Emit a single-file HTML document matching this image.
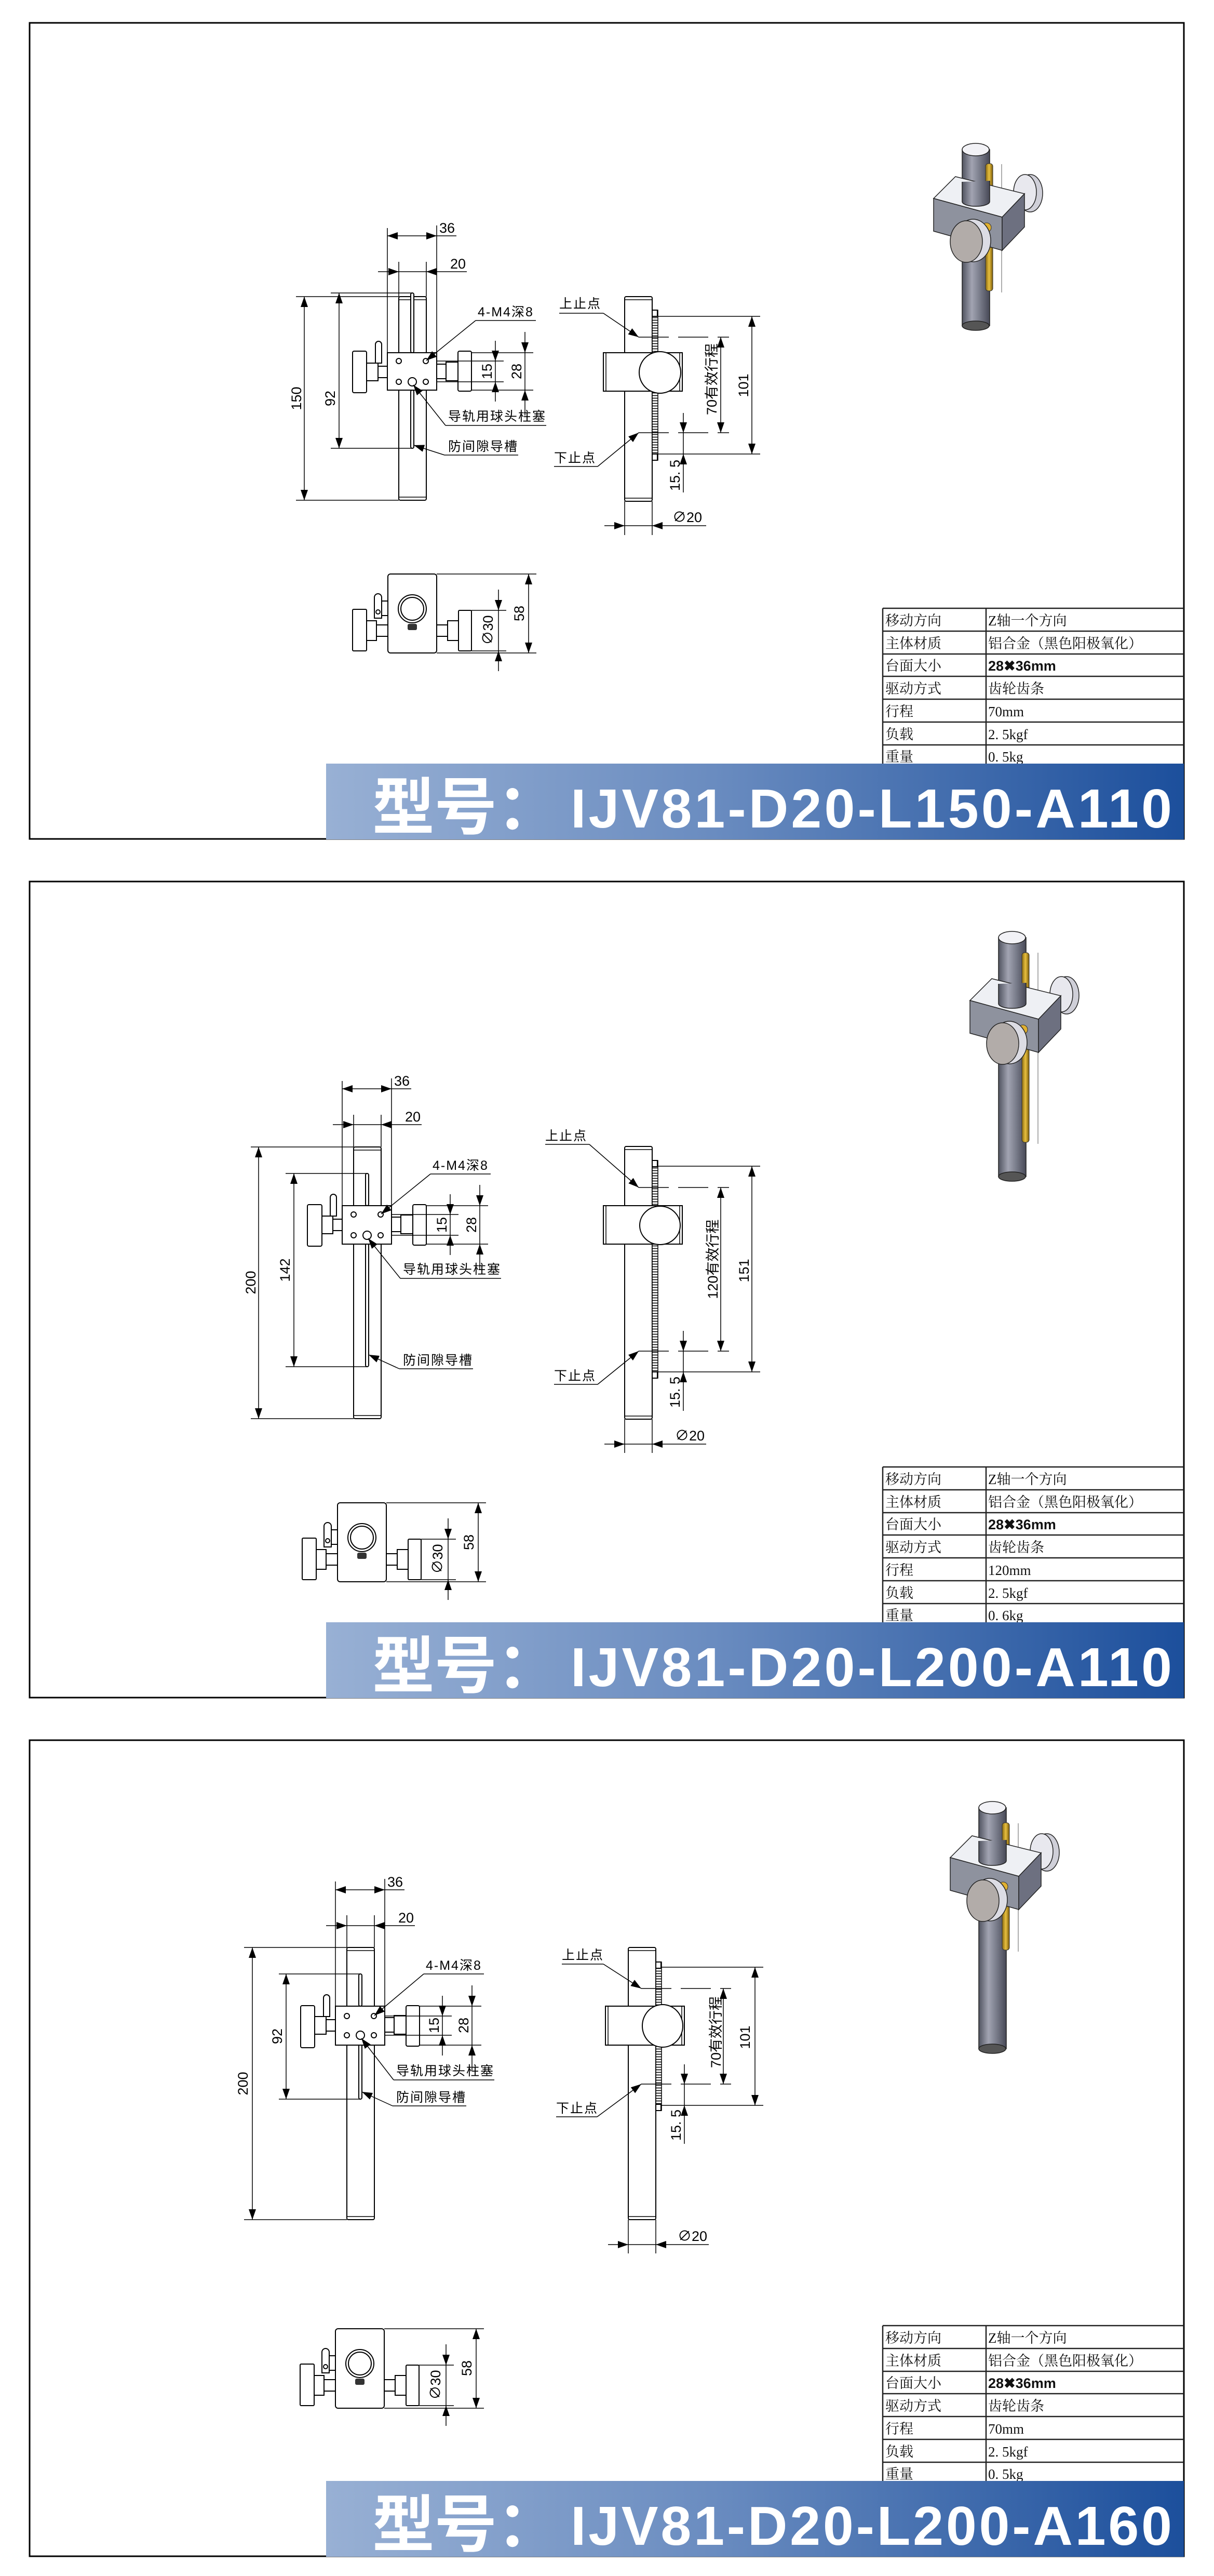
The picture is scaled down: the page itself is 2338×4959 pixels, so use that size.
<!DOCTYPE html>
<html><head><meta charset="utf-8"><style>
html,body{margin:0;padding:0;background:#fff}
svg{display:block}
.l{stroke:#000;stroke-width:2;fill:#fff}
.n{stroke:#000;stroke-width:2;fill:none}
.d{stroke:#000;stroke-width:1.5;fill:none}
.t{font-family:"Liberation Sans","Noto Sans CJK SC",sans-serif;font-size:27px;fill:#000}
.c{font-family:"Liberation Sans","Noto Sans CJK SC",sans-serif;font-size:25px;letter-spacing:2px;fill:#000}
.tb{font-family:"Liberation Serif","Noto Serif CJK SC",serif;font-size:27px;fill:#111}
.tbs{font-family:"Liberation Sans","Noto Sans CJK SC",sans-serif;font-size:27px;fill:#111;font-weight:bold}
.ba{font-family:"Liberation Sans","Noto Sans CJK SC",sans-serif;font-weight:bold;fill:#fff}
</style></head><body>
<svg width="2338" height="4959" viewBox="0 0 2338 4959" xmlns="http://www.w3.org/2000/svg">
<defs>
<marker id="ar" viewBox="0 0 20 14" refX="20" refY="7" markerWidth="20" markerHeight="14" markerUnits="userSpaceOnUse" orient="auto-start-reverse"><path d="M0,0L20,7L0,14z" fill="#000"/></marker>
<pattern id="rk" width="11" height="5" patternUnits="userSpaceOnUse"><rect width="11" height="5" fill="#fff"/><path d="M0,2.5H11" stroke="#000" stroke-width="1.6"/></pattern>
<linearGradient id="bn" x1="0" x2="1" y1="0" y2="0"><stop offset="0" stop-color="#98b0d4"/><stop offset="0.45" stop-color="#6a8cc0"/><stop offset="1" stop-color="#1c4f9c"/></linearGradient>
<linearGradient id="rg" x1="0" x2="1" y1="0" y2="0"><stop offset="0" stop-color="#50535f"/><stop offset="0.35" stop-color="#a2a4b2"/><stop offset="0.6" stop-color="#7f8290"/><stop offset="1" stop-color="#474957"/></linearGradient>
<linearGradient id="yg" x1="0" x2="1" y1="0" y2="0"><stop offset="0" stop-color="#8a6a10"/><stop offset="0.5" stop-color="#e8c040"/><stop offset="1" stop-color="#7a5a08"/></linearGradient>
</defs>

<!-- panel borders -->
<rect x="57" y="44" width="2223" height="1571" fill="none" stroke="#000" stroke-width="3"/>
<rect x="57" y="1697" width="2223" height="1571" fill="none" stroke="#000" stroke-width="3"/>
<rect x="57" y="3350" width="2223" height="1571" fill="none" stroke="#000" stroke-width="3"/>

<!-- ===== FRONT VIEW PANEL 1 ===== -->
<g transform="translate(746,679)">
<rect class="l" x="22" y="-108" width="53" height="392" rx="3"/>
<path class="d" d="M22,-102H75M22,278H75"/>
<rect class="l" x="45" y="-115" width="6" height="115" rx="3"/><rect class="l" x="45" y="72" width="6" height="112" rx="3"/>
<rect class="l" x="0" y="0" width="95" height="72"/>
<circle class="n" cx="22" cy="16" r="5"/><circle class="n" cx="74" cy="16" r="5"/><circle class="n" cx="22" cy="56" r="5"/><circle class="n" cx="74" cy="56" r="5"/><circle class="n" cx="48" cy="56" r="8"/>
<rect class="l" x="-67" y="-3" width="27" height="80" rx="3"/><rect class="l" x="-40" y="20" width="22" height="34"/><rect class="l" x="-18" y="26" width="18" height="22"/>
<path class="l" d="M-23,20V-16A6,6 0 0 1 -11,-16V20Z"/>
<rect class="l" x="95" y="22" width="18" height="28"/><rect class="l" x="113" y="18" width="23" height="36"/><rect class="l" x="136" y="-3" width="26" height="77" rx="3"/>
<path class="d" d="M0,-240V0M95,-245V0M95,-225H133M22,-175V-108M75,-175V-108M22,-156H75M-176,-108H22M-176,284H22M-109,-115H48M-109,184H48M95,16H224M95,56H224M162,0H281M162,72H281M208,16V56M265,0V72"/>
<line class="d" x1="0" y1="-225" x2="95" y2="-225" marker-start="url(#ar)" marker-end="url(#ar)"/>
<line class="d" x1="-18" y1="-156" x2="22" y2="-156" marker-end="url(#ar)"/><line class="d" x1="153" y1="-156" x2="75" y2="-156" marker-end="url(#ar)"/>
<line class="d" x1="-160" y1="-108" x2="-160" y2="284" marker-start="url(#ar)" marker-end="url(#ar)"/>
<line class="d" x1="-93" y1="-115" x2="-93" y2="184" marker-start="url(#ar)" marker-end="url(#ar)"/>
<line class="d" x1="208" y1="-23" x2="208" y2="16" marker-end="url(#ar)"/><line class="d" x1="208" y1="94" x2="208" y2="56" marker-end="url(#ar)"/>
<line class="d" x1="265" y1="-40" x2="265" y2="0" marker-end="url(#ar)"/><line class="d" x1="265" y1="121" x2="265" y2="72" marker-end="url(#ar)"/>
<text class="t" x="100" y="-231" font-size="30">36</text><text class="t" x="121" y="-162" font-size="30">20</text>
<text class="t" text-anchor="middle" transform="translate(-166,88) rotate(-90)">150</text>
<text class="t" text-anchor="middle" transform="translate(-101,88) rotate(-90)">92</text>
<text class="t" text-anchor="middle" transform="translate(201,36) rotate(-90)">15</text>
<text class="t" text-anchor="middle" transform="translate(258,36) rotate(-90)">28</text>
<path class="d" d="M170,-62H286M112,140H306M110,197H252"/>
<line class="d" x1="170" y1="-62" x2="75" y2="15" marker-end="url(#ar)"/>
<line class="d" x1="112" y1="140" x2="50" y2="62" marker-end="url(#ar)"/>
<line class="d" x1="110" y1="197" x2="51" y2="178" marker-end="url(#ar)"/>
<text class="c" x="174" y="-70" letter-spacing="0">4-M4深8</text>
<text class="c" x="117" y="131">导轨用球头柱塞</text>
<text class="c" x="117" y="189">防间隙导槽</text>
</g>

<!-- ===== FRONT VIEW PANEL 2 ===== -->
<g transform="translate(659,2321)">
<rect class="l" x="22" y="-113" width="53" height="523" rx="3"/>
<path class="d" d="M22,-107H75M22,404H75"/>
<rect class="l" x="45" y="-62" width="6" height="62" rx="3"/><rect class="l" x="45" y="72" width="6" height="238" rx="3"/>
<rect class="l" x="0" y="0" width="95" height="74"/>
<circle class="n" cx="22" cy="17" r="5"/><circle class="n" cx="74" cy="17" r="5"/><circle class="n" cx="22" cy="57" r="5"/><circle class="n" cx="74" cy="57" r="5"/><circle class="n" cx="48" cy="57" r="8"/>
<rect class="l" x="-67" y="-2" width="28" height="80" rx="3"/><rect class="l" x="-39" y="20" width="21" height="34"/><rect class="l" x="-18" y="26" width="18" height="22"/>
<path class="l" d="M-23,20V-16A6,6 0 0 1 -11,-16V20Z"/>
<rect class="l" x="95" y="22" width="18" height="28"/><rect class="l" x="113" y="18" width="23" height="36"/><rect class="l" x="136" y="-2" width="26" height="78" rx="3"/>
<path class="d" d="M0,-240V0M95,-245V0M95,-225H133M22,-175V-113M75,-175V-113M22,-156H75M-176,-113H22M-176,410H22M-109,-62H48M-109,310H48M95,17H224M95,57H224M162,0H281M162,74H281M208,17V57M265,0V74"/>
<line class="d" x1="0" y1="-225" x2="95" y2="-225" marker-start="url(#ar)" marker-end="url(#ar)"/>
<line class="d" x1="-18" y1="-156" x2="22" y2="-156" marker-end="url(#ar)"/><line class="d" x1="153" y1="-156" x2="75" y2="-156" marker-end="url(#ar)"/>
<line class="d" x1="-161" y1="-113" x2="-161" y2="410" marker-start="url(#ar)" marker-end="url(#ar)"/>
<line class="d" x1="-93" y1="-62" x2="-93" y2="310" marker-start="url(#ar)" marker-end="url(#ar)"/>
<line class="d" x1="208" y1="-22" x2="208" y2="17" marker-end="url(#ar)"/><line class="d" x1="208" y1="95" x2="208" y2="57" marker-end="url(#ar)"/>
<line class="d" x1="265" y1="-40" x2="265" y2="0" marker-end="url(#ar)"/><line class="d" x1="265" y1="123" x2="265" y2="74" marker-end="url(#ar)"/>
<text class="t" x="100" y="-231" font-size="30">36</text><text class="t" x="121" y="-162" font-size="30">20</text>
<text class="t" text-anchor="middle" transform="translate(-167,148) rotate(-90)">200</text>
<text class="t" text-anchor="middle" transform="translate(-101,124) rotate(-90)">142</text>
<text class="t" text-anchor="middle" transform="translate(201,37) rotate(-90)">15</text>
<text class="t" text-anchor="middle" transform="translate(258,37) rotate(-90)">28</text>
<path class="d" d="M170,-61H286M112,140H306M110,314H252"/>
<line class="d" x1="170" y1="-61" x2="75" y2="16" marker-end="url(#ar)"/>
<line class="d" x1="112" y1="140" x2="50" y2="63" marker-end="url(#ar)"/>
<line class="d" x1="110" y1="314" x2="51" y2="287" marker-end="url(#ar)"/>
<text class="c" x="174" y="-69" letter-spacing="0">4-M4深8</text>
<text class="c" x="117" y="131">导轨用球头柱塞</text>
<text class="c" x="117" y="306">防间隙导槽</text>
</g>

<!-- ===== FRONT VIEW PANEL 3 ===== -->
<g transform="translate(646,3862)">
<rect class="l" x="22" y="-113" width="53" height="524" rx="3"/>
<path class="d" d="M22,-107H75M22,405H75"/>
<rect class="l" x="45" y="-62" width="6" height="62" rx="3"/><rect class="l" x="45" y="74" width="6" height="105" rx="3"/>
<rect class="l" x="0" y="0" width="95" height="75"/>
<circle class="n" cx="22" cy="19" r="5"/><circle class="n" cx="74" cy="19" r="5"/><circle class="n" cx="22" cy="56" r="5"/><circle class="n" cx="74" cy="56" r="5"/><circle class="n" cx="48" cy="56" r="8"/>
<rect class="l" x="-67" y="-1" width="27" height="81" rx="3"/><rect class="l" x="-40" y="20" width="22" height="34"/><rect class="l" x="-18" y="26" width="18" height="22"/>
<path class="l" d="M-23,20V-16A6,6 0 0 1 -11,-16V20Z"/>
<rect class="l" x="95" y="22" width="18" height="28"/><rect class="l" x="113" y="18" width="23" height="36"/><rect class="l" x="136" y="-1" width="26" height="78" rx="3"/>
<path class="d" d="M0,-240V0M95,-245V0M95,-224H133M22,-175V-113M75,-175V-113M22,-155H75M-176,-113H22M-176,411H22M-109,-62H48M-109,179H48M95,19H224M95,56H224M162,0H281M162,75H281M206,19V56M263,0V75"/>
<line class="d" x1="0" y1="-224" x2="95" y2="-224" marker-start="url(#ar)" marker-end="url(#ar)"/>
<line class="d" x1="-18" y1="-155" x2="22" y2="-155" marker-end="url(#ar)"/><line class="d" x1="153" y1="-155" x2="75" y2="-155" marker-end="url(#ar)"/>
<line class="d" x1="-160" y1="-113" x2="-160" y2="411" marker-start="url(#ar)" marker-end="url(#ar)"/>
<line class="d" x1="-95" y1="-62" x2="-95" y2="179" marker-start="url(#ar)" marker-end="url(#ar)"/>
<line class="d" x1="206" y1="-20" x2="206" y2="19" marker-end="url(#ar)"/><line class="d" x1="206" y1="95" x2="206" y2="56" marker-end="url(#ar)"/>
<line class="d" x1="263" y1="-40" x2="263" y2="0" marker-end="url(#ar)"/><line class="d" x1="263" y1="124" x2="263" y2="75" marker-end="url(#ar)"/>
<text class="t" x="100" y="-230" font-size="30">36</text><text class="t" x="121" y="-161" font-size="30">20</text>
<text class="t" text-anchor="middle" transform="translate(-169,149) rotate(-90)">200</text>
<text class="t" text-anchor="middle" transform="translate(-103,58) rotate(-90)">92</text>
<text class="t" text-anchor="middle" transform="translate(199,37) rotate(-90)">15</text>
<text class="t" text-anchor="middle" transform="translate(256,37) rotate(-90)">28</text>
<path class="d" d="M170,-62H286M112,142H306M110,192H252"/>
<line class="d" x1="170" y1="-62" x2="75" y2="18" marker-end="url(#ar)"/>
<line class="d" x1="112" y1="142" x2="50" y2="62" marker-end="url(#ar)"/>
<line class="d" x1="110" y1="192" x2="51" y2="165" marker-end="url(#ar)"/>
<text class="c" x="174" y="-70" letter-spacing="0">4-M4深8</text>
<text class="c" x="117" y="133">导轨用球头柱塞</text>
<text class="c" x="117" y="184">防间隙导槽</text>
</g>

<!-- ===== SIDE VIEW PANEL 1 ===== -->
<g transform="translate(1162,679)">
<rect class="l" x="41" y="-108" width="53" height="394" rx="3"/>
<path class="d" d="M41,-102H94M41,280H94"/>
<rect x="94" y="-82" width="11" height="289" fill="url(#rk)" stroke="#000" stroke-width="1.5"/>
<rect class="l" x="94" y="-82" width="10" height="12"/><rect class="l" x="94" y="195" width="10" height="12"/>
<rect class="l" x="0" y="0" width="152" height="74"/><path class="d" d="M5,0V74M147,0V74"/>
<circle class="l" cx="109" cy="38" r="40"/>
<path class="d" d="M68,-30H242M68,154H242" stroke-dasharray="58,18"/>
<path class="d" d="M105,-70H302M105,195H302M154,154V195"/>
<line class="d" x1="286" y1="-70" x2="286" y2="195" marker-start="url(#ar)" marker-end="url(#ar)"/>
<line class="d" x1="226" y1="-30" x2="226" y2="154" marker-start="url(#ar)" marker-end="url(#ar)"/>
<line class="d" x1="154" y1="116" x2="154" y2="154" marker-end="url(#ar)"/>
<line class="d" x1="154" y1="269" x2="154" y2="195" marker-end="url(#ar)"/>
<text class="t" text-anchor="middle" font-size="30" transform="translate(218,51) rotate(-90)">70有效行程</text>
<text class="t" text-anchor="middle" transform="translate(279,63) rotate(-90)">101</text>
<text class="t" text-anchor="middle" transform="translate(147,236) rotate(-90)">15. 5</text>
<path class="d" d="M41,286V351M94,286V351M41,333H94"/>
<line class="d" x1="2" y1="333" x2="41" y2="333" marker-end="url(#ar)"/><line class="d" x1="198" y1="333" x2="94" y2="333" marker-end="url(#ar)"/>
<text class="t" x="133" y="326">∅20</text>
<path class="d" d="M-85,-76H0M-95,219H-11"/>
<line class="d" x1="0" y1="-76" x2="68" y2="-30" marker-end="url(#ar)"/>
<line class="d" x1="-11" y1="219" x2="68" y2="154" marker-end="url(#ar)"/>
<text class="c" x="-85" y="-86">上止点</text><text class="c" x="-95" y="211">下止点</text>
</g>

<!-- ===== SIDE VIEW PANEL 2 ===== -->
<g transform="translate(1162,2321)">
<rect class="l" x="41" y="-114" width="53" height="525" rx="3"/>
<path class="d" d="M41,-108H94M41,405H94"/>
<rect x="94" y="-87" width="11" height="419" fill="url(#rk)" stroke="#000" stroke-width="1.5"/>
<rect class="l" x="94" y="-87" width="10" height="12"/><rect class="l" x="94" y="320" width="10" height="12"/>
<rect class="l" x="0" y="0" width="152" height="74"/><path class="d" d="M5,0V74M147,0V74"/>
<ellipse class="l" cx="109" cy="38" rx="39" ry="37"/>
<path class="d" d="M68,-35H242M68,280H242" stroke-dasharray="58,18"/>
<path class="d" d="M105,-76H302M105,320H302M154,280V320"/>
<line class="d" x1="286" y1="-76" x2="286" y2="320" marker-start="url(#ar)" marker-end="url(#ar)"/>
<line class="d" x1="226" y1="-35" x2="226" y2="280" marker-start="url(#ar)" marker-end="url(#ar)"/>
<line class="d" x1="154" y1="241" x2="154" y2="280" marker-end="url(#ar)"/>
<line class="d" x1="154" y1="395" x2="154" y2="320" marker-end="url(#ar)"/>
<text class="t" text-anchor="middle" font-size="30" transform="translate(220,103) rotate(-90)">120有效行程</text>
<text class="t" text-anchor="middle" transform="translate(280,125) rotate(-90)">151</text>
<text class="t" text-anchor="middle" transform="translate(147,359) rotate(-90)">15. 5</text>
<path class="d" d="M41,411V476M94,411V476M41,459H94"/>
<line class="d" x1="2" y1="459" x2="41" y2="459" marker-end="url(#ar)"/><line class="d" x1="198" y1="459" x2="94" y2="459" marker-end="url(#ar)"/>
<text class="t" x="138" y="452">∅20</text>
<path class="d" d="M-112,-118H-27M-95,344H-11"/>
<line class="d" x1="-27" y1="-118" x2="68" y2="-35" marker-end="url(#ar)"/>
<line class="d" x1="-11" y1="344" x2="68" y2="280" marker-end="url(#ar)"/>
<text class="c" x="-112" y="-126">上止点</text><text class="c" x="-95" y="336">下止点</text>
</g>

<!-- ===== SIDE VIEW PANEL 3 ===== -->
<g transform="translate(1169,3862)">
<rect class="l" x="41" y="-113" width="53" height="524" rx="3"/>
<path class="d" d="M41,-107H94M41,405H94"/>
<rect x="94" y="-85" width="11" height="286" fill="url(#rk)" stroke="#000" stroke-width="1.5"/>
<rect class="l" x="94" y="-85" width="10" height="12"/><rect class="l" x="94" y="189" width="10" height="12"/>
<rect class="l" x="-3" y="0" width="152" height="75"/><path class="d" d="M2,0V75M144,0V75"/>
<ellipse class="l" cx="107" cy="38" rx="39" ry="41"/>
<path class="d" d="M66,-34H239M66,150H239" stroke-dasharray="58,18"/>
<path class="d" d="M105,-75H301M105,191H301M149,150V191"/>
<line class="d" x1="285" y1="-75" x2="285" y2="191" marker-start="url(#ar)" marker-end="url(#ar)"/>
<line class="d" x1="224" y1="-34" x2="224" y2="150" marker-start="url(#ar)" marker-end="url(#ar)"/>
<line class="d" x1="149" y1="112" x2="149" y2="150" marker-end="url(#ar)"/>
<line class="d" x1="149" y1="265" x2="149" y2="191" marker-end="url(#ar)"/>
<text class="t" text-anchor="middle" font-size="30" transform="translate(219,50) rotate(-90)">70有效行程</text>
<text class="t" text-anchor="middle" transform="translate(275,60) rotate(-90)">101</text>
<text class="t" text-anchor="middle" transform="translate(142,229) rotate(-90)">15. 5</text>
<path class="d" d="M41,411V476M94,411V476M41,459H94"/>
<line class="d" x1="2" y1="459" x2="41" y2="459" marker-end="url(#ar)"/><line class="d" x1="196" y1="459" x2="94" y2="459" marker-end="url(#ar)"/>
<text class="t" x="136" y="452">∅20</text>
<path class="d" d="M-87,-81H-7M-98,213H-19"/>
<line class="d" x1="-7" y1="-81" x2="66" y2="-34" marker-end="url(#ar)"/>
<line class="d" x1="-19" y1="213" x2="66" y2="150" marker-end="url(#ar)"/>
<text class="c" x="-87" y="-90">上止点</text><text class="c" x="-98" y="205">下止点</text>
</g>

<!-- ===== BOTTOM VIEWS ===== -->
<g transform="translate(747,1105)">
<rect class="l" x="0" y="0" width="94" height="152" rx="5"/>
<rect class="l" x="136" y="70" width="25" height="78" rx="2"/><rect class="l" x="115" y="90" width="21" height="38"/><rect class="l" x="94" y="98" width="21" height="22"/>
<rect class="l" x="-68" y="68" width="27" height="80" rx="2"/><rect class="l" x="-41" y="90" width="19" height="38"/><rect class="l" x="-22" y="98" width="22" height="22"/>
<path class="l" d="M-26,85V45A7,7 0 0 1 -12,45V85Z"/><rect class="l" x="-12" y="52" width="12" height="28"/><circle class="n" cx="-19" cy="73" r="4"/>
<circle class="n" cx="47" cy="67" r="27"/><circle class="n" cx="47" cy="67" r="22"/><rect x="38" y="96" width="18" height="12" rx="3" fill="#333"/>
<path class="d" d="M94,0H286M94,152H286M161,70H228M161,148H228M213,70V148"/>
<line class="d" x1="271" y1="0" x2="271" y2="152" marker-start="url(#ar)" marker-end="url(#ar)"/>
<line class="d" x1="213" y1="30" x2="213" y2="70" marker-end="url(#ar)"/><line class="d" x1="213" y1="187" x2="213" y2="148" marker-end="url(#ar)"/>
<text class="t" text-anchor="middle" transform="translate(262,76) rotate(-90)">58</text>
<text class="t" text-anchor="middle" transform="translate(202,108) rotate(-90)">∅30</text>
</g>
<g transform="translate(650,2893)">
<rect class="l" x="0" y="0" width="94" height="152" rx="5"/>
<rect class="l" x="136" y="70" width="25" height="78" rx="2"/><rect class="l" x="115" y="90" width="21" height="38"/><rect class="l" x="94" y="98" width="21" height="22"/>
<rect class="l" x="-68" y="68" width="27" height="80" rx="2"/><rect class="l" x="-41" y="90" width="19" height="38"/><rect class="l" x="-22" y="98" width="22" height="22"/>
<path class="l" d="M-26,85V45A7,7 0 0 1 -12,45V85Z"/><rect class="l" x="-12" y="52" width="12" height="28"/><circle class="n" cx="-19" cy="73" r="4"/>
<circle class="n" cx="47" cy="67" r="27"/><circle class="n" cx="47" cy="67" r="22"/><rect x="38" y="96" width="18" height="12" rx="3" fill="#333"/>
<path class="d" d="M94,0H286M94,152H286M161,70H228M161,148H228M213,70V148"/>
<line class="d" x1="271" y1="0" x2="271" y2="152" marker-start="url(#ar)" marker-end="url(#ar)"/>
<line class="d" x1="213" y1="30" x2="213" y2="70" marker-end="url(#ar)"/><line class="d" x1="213" y1="187" x2="213" y2="148" marker-end="url(#ar)"/>
<text class="t" text-anchor="middle" transform="translate(262,76) rotate(-90)">58</text>
<text class="t" text-anchor="middle" transform="translate(202,108) rotate(-90)">∅30</text>
</g>
<g transform="translate(646,4483)">
<rect class="l" x="0" y="0" width="94" height="153" rx="5"/>
<rect class="l" x="136" y="70" width="25" height="78" rx="2"/><rect class="l" x="115" y="90" width="21" height="38"/><rect class="l" x="94" y="98" width="21" height="22"/>
<rect class="l" x="-68" y="68" width="27" height="80" rx="2"/><rect class="l" x="-41" y="90" width="19" height="38"/><rect class="l" x="-22" y="98" width="22" height="22"/>
<path class="l" d="M-26,85V45A7,7 0 0 1 -12,45V85Z"/><rect class="l" x="-12" y="52" width="12" height="28"/><circle class="n" cx="-19" cy="73" r="4"/>
<circle class="n" cx="47" cy="67" r="27"/><circle class="n" cx="47" cy="67" r="22"/><rect x="38" y="96" width="18" height="12" rx="3" fill="#333"/>
<path class="d" d="M94,0H286M94,153H286M161,70H228M161,148H228M213,70V148"/>
<line class="d" x1="271" y1="0" x2="271" y2="153" marker-start="url(#ar)" marker-end="url(#ar)"/>
<line class="d" x1="213" y1="30" x2="213" y2="70" marker-end="url(#ar)"/><line class="d" x1="213" y1="187" x2="213" y2="148" marker-end="url(#ar)"/>
<text class="t" text-anchor="middle" transform="translate(262,76) rotate(-90)">58</text>
<text class="t" text-anchor="middle" transform="translate(202,108) rotate(-90)">∅30</text>
</g>

<!-- ===== 3D VIEWS ===== -->
<g>
<rect x="1853" y="288" width="53" height="339" fill="url(#rg)" stroke="#222" stroke-width="1.5"/>
<ellipse cx="1879" cy="627" rx="26" ry="9" fill="#555" stroke="#222" stroke-width="1.5"/>
<ellipse cx="1879" cy="288" rx="26" ry="12" fill="#f2f2f6" stroke="#222" stroke-width="1.5"/>
<rect x="1898" y="315" width="14" height="77" rx="5" fill="url(#yg)" stroke="#333"/>
<rect x="1898" y="475" width="14" height="85" rx="5" fill="url(#yg)" stroke="#333"/>
<line x1="1929" y1="316" x2="1929" y2="563" stroke="#777" stroke-width="1.2"/>
<ellipse cx="1984" cy="372" rx="24" ry="36" fill="#cfcfd8" stroke="#222" stroke-width="1.5"/>
<ellipse cx="1974" cy="370" rx="22" ry="34" fill="#e8e8ee" stroke="#222" stroke-width="1.5"/>
<polygon points="1798,382 1840,340 1973,373 1930,418" fill="#eef0f4" stroke="#222" stroke-width="1.5"/>
<polygon points="1798,382 1930,418 1930,482 1798,445" fill="#8e929e" stroke="#222" stroke-width="1.5"/>
<polygon points="1930,418 1973,373 1973,437 1930,482" fill="#6d7080" stroke="#222" stroke-width="1.5"/>
<path d="M1853,350 V388 A26,9 0 0 0 1906,388 V348" fill="url(#rg)" stroke="#222" stroke-width="1.5"/>
<circle cx="1900" cy="438" r="9" fill="#e0b030" stroke="#333"/>
<ellipse cx="1874" cy="463" rx="34" ry="41" fill="#dcdce4" stroke="#222" stroke-width="1.5"/>
<ellipse cx="1861" cy="465" rx="31" ry="40" fill="#b2aca9" stroke="#222" stroke-width="1.5"/>
</g>
<g transform="translate(70,1544)">
<rect x="1853" y="261" width="53" height="460" fill="url(#rg)" stroke="#222" stroke-width="1.5"/>
<ellipse cx="1879" cy="721" rx="26" ry="9" fill="#555" stroke="#222" stroke-width="1.5"/>
<ellipse cx="1879" cy="261" rx="26" ry="12" fill="#f2f2f6" stroke="#222" stroke-width="1.5"/>
<rect x="1898" y="290" width="14" height="102" rx="5" fill="url(#yg)" stroke="#333"/>
<rect x="1898" y="475" width="14" height="180" rx="5" fill="url(#yg)" stroke="#333"/>
<line x1="1929" y1="290" x2="1929" y2="658" stroke="#777" stroke-width="1.2"/>
<ellipse cx="1984" cy="372" rx="24" ry="36" fill="#cfcfd8" stroke="#222" stroke-width="1.5"/>
<ellipse cx="1974" cy="370" rx="22" ry="34" fill="#e8e8ee" stroke="#222" stroke-width="1.5"/>
<polygon points="1798,382 1840,340 1973,373 1930,418" fill="#eef0f4" stroke="#222" stroke-width="1.5"/>
<polygon points="1798,382 1930,418 1930,482 1798,445" fill="#8e929e" stroke="#222" stroke-width="1.5"/>
<polygon points="1930,418 1973,373 1973,437 1930,482" fill="#6d7080" stroke="#222" stroke-width="1.5"/>
<path d="M1853,350 V388 A26,9 0 0 0 1906,388 V348" fill="url(#rg)" stroke="#222" stroke-width="1.5"/>
<circle cx="1900" cy="438" r="9" fill="#e0b030" stroke="#333"/>
<ellipse cx="1874" cy="463" rx="34" ry="41" fill="#dcdce4" stroke="#222" stroke-width="1.5"/>
<ellipse cx="1861" cy="465" rx="31" ry="40" fill="#b2aca9" stroke="#222" stroke-width="1.5"/>
</g>
<g transform="translate(32,3194)">
<rect x="1853" y="286" width="53" height="464" fill="url(#rg)" stroke="#222" stroke-width="1.5"/>
<ellipse cx="1879" cy="750" rx="26" ry="9" fill="#555" stroke="#222" stroke-width="1.5"/>
<ellipse cx="1879" cy="286" rx="26" ry="12" fill="#f2f2f6" stroke="#222" stroke-width="1.5"/>
<rect x="1898" y="315" width="14" height="77" rx="5" fill="url(#yg)" stroke="#333"/>
<rect x="1898" y="475" width="14" height="85" rx="5" fill="url(#yg)" stroke="#333"/>
<line x1="1929" y1="316" x2="1929" y2="563" stroke="#777" stroke-width="1.2"/>
<ellipse cx="1984" cy="372" rx="24" ry="36" fill="#cfcfd8" stroke="#222" stroke-width="1.5"/>
<ellipse cx="1974" cy="370" rx="22" ry="34" fill="#e8e8ee" stroke="#222" stroke-width="1.5"/>
<polygon points="1798,382 1840,340 1973,373 1930,418" fill="#eef0f4" stroke="#222" stroke-width="1.5"/>
<polygon points="1798,382 1930,418 1930,482 1798,445" fill="#8e929e" stroke="#222" stroke-width="1.5"/>
<polygon points="1930,418 1973,373 1973,437 1930,482" fill="#6d7080" stroke="#222" stroke-width="1.5"/>
<path d="M1853,350 V388 A26,9 0 0 0 1906,388 V348" fill="url(#rg)" stroke="#222" stroke-width="1.5"/>
<circle cx="1900" cy="438" r="9" fill="#e0b030" stroke="#333"/>
<ellipse cx="1874" cy="463" rx="34" ry="41" fill="#dcdce4" stroke="#222" stroke-width="1.5"/>
<ellipse cx="1861" cy="465" rx="31" ry="40" fill="#b2aca9" stroke="#222" stroke-width="1.5"/>
</g>

<!-- ===== TABLES ===== -->
<g>
<path d="M1700,1171H2280M1700,1215H2280M1700,1259H2280M1700,1302H2280M1700,1346H2280M1700,1390H2280M1700,1434H2280M1700,1171V1470M1899,1171V1470" stroke="#222" stroke-width="2.5" fill="none"/>
<text class="tb" x="1705" y="1204">移动方向</text><text class="tb" x="1903" y="1204">Z轴一个方向</text>
<text class="tb" x="1705" y="1248">主体材质</text><text class="tb" x="1903" y="1248">铝合金（黑色阳极氧化）</text>
<text class="tb" x="1705" y="1291">台面大小</text><text class="tbs" x="1903" y="1291">28✖36mm</text>
<text class="tb" x="1705" y="1335">驱动方式</text><text class="tb" x="1903" y="1335">齿轮齿条</text>
<text class="tb" x="1705" y="1379">行程</text><text class="tb" x="1903" y="1379">70mm</text>
<text class="tb" x="1705" y="1423">负载</text><text class="tb" x="1903" y="1423">2. 5kgf</text>
<text class="tb" x="1705" y="1466">重量</text><text class="tb" x="1903" y="1466">0. 5kg</text>
</g>
<g transform="translate(0,1653)">
<path d="M1700,1171H2280M1700,1215H2280M1700,1259H2280M1700,1302H2280M1700,1346H2280M1700,1390H2280M1700,1434H2280M1700,1171V1470M1899,1171V1470" stroke="#222" stroke-width="2.5" fill="none"/>
<text class="tb" x="1705" y="1204">移动方向</text><text class="tb" x="1903" y="1204">Z轴一个方向</text>
<text class="tb" x="1705" y="1248">主体材质</text><text class="tb" x="1903" y="1248">铝合金（黑色阳极氧化）</text>
<text class="tb" x="1705" y="1291">台面大小</text><text class="tbs" x="1903" y="1291">28✖36mm</text>
<text class="tb" x="1705" y="1335">驱动方式</text><text class="tb" x="1903" y="1335">齿轮齿条</text>
<text class="tb" x="1705" y="1379">行程</text><text class="tb" x="1903" y="1379">120mm</text>
<text class="tb" x="1705" y="1423">负载</text><text class="tb" x="1903" y="1423">2. 5kgf</text>
<text class="tb" x="1705" y="1466">重量</text><text class="tb" x="1903" y="1466">0. 6kg</text>
</g>
<g transform="translate(0,3306)">
<path d="M1700,1171H2280M1700,1215H2280M1700,1259H2280M1700,1302H2280M1700,1346H2280M1700,1390H2280M1700,1434H2280M1700,1171V1470M1899,1171V1470" stroke="#222" stroke-width="2.5" fill="none"/>
<text class="tb" x="1705" y="1204">移动方向</text><text class="tb" x="1903" y="1204">Z轴一个方向</text>
<text class="tb" x="1705" y="1248">主体材质</text><text class="tb" x="1903" y="1248">铝合金（黑色阳极氧化）</text>
<text class="tb" x="1705" y="1291">台面大小</text><text class="tbs" x="1903" y="1291">28✖36mm</text>
<text class="tb" x="1705" y="1335">驱动方式</text><text class="tb" x="1903" y="1335">齿轮齿条</text>
<text class="tb" x="1705" y="1379">行程</text><text class="tb" x="1903" y="1379">70mm</text>
<text class="tb" x="1705" y="1423">负载</text><text class="tb" x="1903" y="1423">2. 5kgf</text>
<text class="tb" x="1705" y="1466">重量</text><text class="tb" x="1903" y="1466">0. 5kg</text>
</g>

<!-- ===== BANNERS ===== -->
<rect x="628" y="1470" width="1652" height="146" fill="url(#bn)"/>
<text class="ba" x="717" y="1596" font-size="120">型号：</text>
<text class="ba" x="1099" y="1593" font-size="106" textLength="1158" lengthAdjust="spacing">IJV81-D20-L150-A110</text>
<rect x="628" y="3123" width="1652" height="146" fill="url(#bn)"/>
<text class="ba" x="717" y="3249" font-size="120">型号：</text>
<text class="ba" x="1099" y="3246" font-size="106" textLength="1158" lengthAdjust="spacing">IJV81-D20-L200-A110</text>
<rect x="628" y="4776" width="1652" height="146" fill="url(#bn)"/>
<text class="ba" x="717" y="4902" font-size="120">型号：</text>
<text class="ba" x="1099" y="4899" font-size="106" textLength="1158" lengthAdjust="spacing">IJV81-D20-L200-A160</text>
</svg>
</body></html>
